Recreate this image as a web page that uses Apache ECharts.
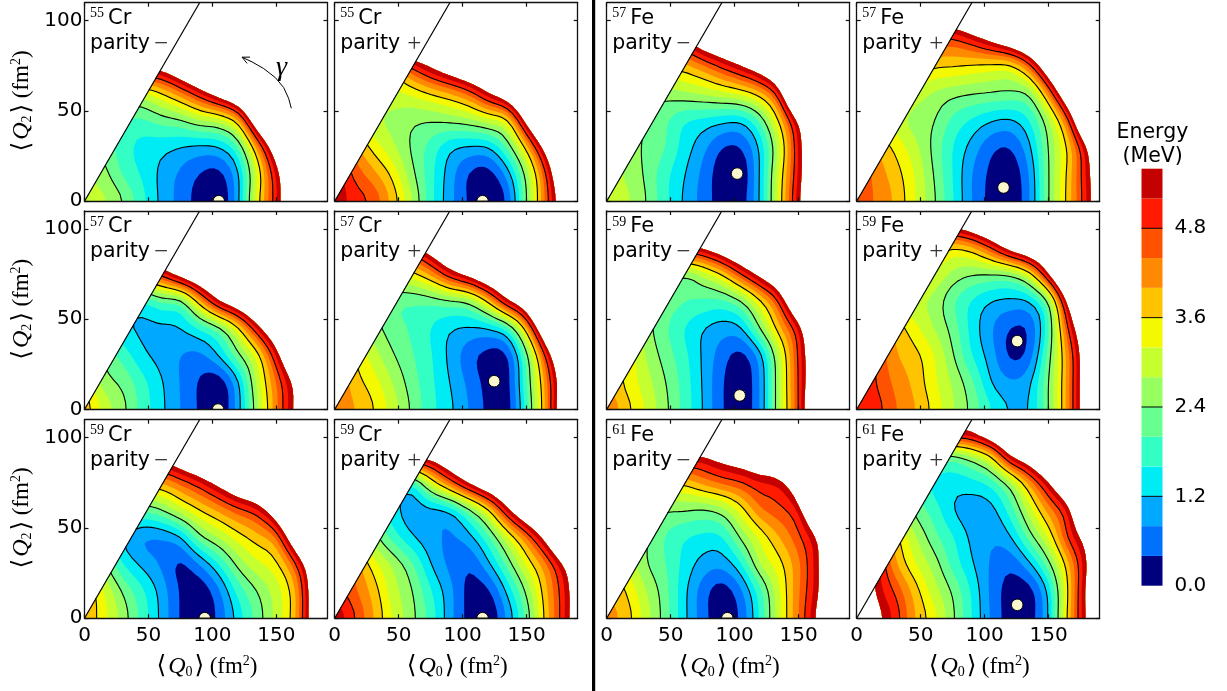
<!DOCTYPE html>
<html><head><meta charset="utf-8">
<style>html,body{margin:0;padding:0;background:#fff}#c{width:1227px;height:691px}</style>
<script src="https://cdn.jsdelivr.net/npm/echarts@6/dist/echarts.min.js"></script>
</head><body><div id="c"></div>
<script>
// Energy read on a grid: rows Q2 = 0,15,...,105; columns Q0 = 0,15,...,195
const gridStep = 15;
const cr55Minus = [
[3.1,2.9,2.45,1.75,1.1,.65,.2,0,1.05,3.45,5.1,7.5,9.5,11],
[2.8,2.55,1.95,1.55,1.1,.72,.38,.25,1.1,3.2,5.3,7.3,9.5,11],
[3.0,2.3,1.8,1.45,1.35,1.2,1.1,1.2,1.95,4.15,6.5,9,11,12],
[3.2,2.4,2.0,1.95,2.2,2.38,2.8,3.0,3.9,6.7,9,11,12,12],
[5,4,3.2,3.1,3.6,4.3,5.2,6.2,7.3,9.2,11,12,12,12],
[7,6.5,6.2,6.1,6.1,7,8,9,10.5,12,12,12,12,12],
[9,9,9,9,9,9.5,10,11,12,12,12,12,12,12],
[11,11,11,11,11,11,12,12,12,12,12,12,12,12]];
const cr55Plus = [
[5.5,5.05,4.75,3.9,2.9,1.75,.95,.35,0,.42,2.4,4.5,6.5,8.5],
[5.5,4.7,4.15,3.5,2.55,1.75,1.0,.35,.2,.95,2.6,4.75,7.3,9],
[5,4.2,3.45,2.9,2.35,1.85,1.3,1.15,1.2,2.1,3.8,6.1,8.5,10],
[4.5,3.5,2.9,2.7,2.5,2.45,2.55,2.7,3.05,3.5,6.05,8.6,11,12],
[4.5,3.5,3.2,3.1,3.3,3.65,4.0,4.55,5.6,6.6,8.5,11,12,12],
[5,4.5,4,4,4.95,5.75,6.5,7.3,8,9,10.5,12,12,12],
[8,8,8,8,8,7.6,8.3,9,10,11,12,12,12,12],
[10,10,10,10,10,10,11,12,12,12,12,12,12,12]];
const fe57Minus = [
[3.05,2.9,2.45,1.75,1.15,.65,.2,.2,1.25,3.35,5.5,7.2,9,10],
[3,2.75,2.35,1.75,1.25,.7,.15,.05,1.25,3.25,5.3,7.2,9,10],
[3,2.6,2.35,2.05,1.45,.95,.4,.4,1.3,3.0,5.3,7.2,9,10],
[3.2,2.8,2.4,2.1,1.65,1.5,1.35,1.3,2.1,3.7,5.8,8,10,12],
[3.5,3,2.6,2.6,2.75,2.9,3.1,3.35,3.9,5.2,8.9,11,12,12],
[4.5,4,3.8,3.8,3.85,4.3,4.95,5.6,6.4,7.8,11.4,13,13,13],
[6,5.5,5.5,5.5,5.5,6.6,7.3,8,8.9,10,12,13,13,13],
[8,8,8,8,8,8.5,9.5,10.5,11.5,12,13,13,13,13]];
const fe57Plus = [
[4.7,4.35,3.95,3.25,2.5,1.65,.8,.25,.05,.75,2.4,3.75,5.2,7],
[4.8,4.25,3.8,3.2,2.4,1.6,.8,.3,.1,.8,2.4,3.7,5.3,7],
[4.5,4,3.5,2.95,2.3,1.6,1.05,.5,.4,1.1,2.45,3.65,5.6,8],
[4.2,3.5,3.0,2.65,2.45,1.9,1.55,1.25,1.15,1.6,2.75,4.6,8,10],
[4.5,4,3.5,3.1,2.75,2.55,2.45,2.4,2.35,2.5,4.3,7,10,12],
[4.5,4.2,4,4,3.7,3.65,3.55,3.45,3.45,4.55,6.8,9.4,12,12],
[5,5,4.8,4.8,4.8,4.75,5.2,5.9,6.7,7.7,9.2,12,12,12],
[6.5,6.5,6.5,6.5,6.5,6.8,7.6,8.3,9.1,10,11,12,12,12]];
const cr57Minus = [
[3.9,3.1,2.55,1.85,1.3,.8,.35,0,1.0,2.7,4.3,5.8,7.5,9],
[3.5,2.6,2.3,1.75,1.25,.78,.35,.1,1.1,2.95,4.4,5.9,7.5,9],
[3,2.3,1.85,1.3,1.05,.8,.7,1.25,2.3,3.35,5.25,7.5,9.5,11],
[3,2,1.3,1.15,1.1,1.2,1.65,2.2,3.45,5.25,7,9,11,12],
[3,2.5,1.8,1.55,2.05,2.15,3.9,5.6,6.6,7.85,9.5,11,12,12],
[4.5,4.5,4.5,4.5,5,6.1,7,8,8.9,10.3,12,12,12,12],
[8,8,8,8,8,8.5,9.5,11,11,12,12,12,12,12],
[11,11,11,11,11,11,12,12,12,12,12,12,12,12]];
const cr57Plus = [
[4.3,4.05,3.65,3.05,2.35,1.75,1.3,.8,.3,.15,1.8,4.1,6.8,9],
[4.5,3.8,3.4,2.8,2.2,1.7,1.2,.7,.25,.2,2.0,4.2,6.6,9],
[4,3.6,3.0,2.45,2.05,1.65,1.1,.55,.25,.35,2.2,4.9,7.5,10],
[3.8,3.2,2.6,2.2,1.95,1.6,1.25,1.15,1.2,1.75,3.9,7.1,10,12],
[3.5,3,2.5,2.1,2.05,2.1,2.3,2.5,3.7,5.5,6.8,9.8,12,12],
[3.8,3.5,3.3,3.3,3.45,4.1,5.2,6,7,7.9,9.2,12,12,12],
[6,6,6,5.5,5.5,6.4,7.6,8.5,9.4,10.3,12,12,12,12],
[10,10,10,10,10,10,11,12,12,12,12,12,12,12]];
const fe59Minus = [
[4.4,3.8,3.2,2.55,1.9,1.2,.45,.1,.8,2.85,4.8,7.5,9.5,11],
[4,3.5,3.0,2.45,1.85,1.17,.45,.1,.8,2.85,4.85,7,9.5,11],
[4,3.6,2.8,2.25,1.75,1.15,.6,.25,1,2.95,4.9,7,9.5,11],
[3.8,3.2,2.6,2.1,1.6,1.22,1.0,1.15,2.45,3.9,5.2,8,10.5,12],
[3.5,3,2.6,2.3,2.05,1.95,1.9,2.35,3.5,4.85,7.5,10,12,12],
[3.5,3.3,3,2.8,2.4,2.9,3.6,4.8,5.95,7.2,10,12,12,12],
[5.5,5.5,5.5,5.5,5.5,5.75,6.6,7.5,8.3,9.6,12,12,12,12],
[8,8,8,8,8,8.5,9.5,10.5,11,12,12,12,12,12]];
const fe59Plus = [
[5.1,5,4.45,4.05,3.5,2.85,2.3,1.65,1.2,1.2,2.4,4.2,6.5,9],
[5.2,4.8,4.3,3.9,3.3,2.75,2.1,1.2,.87,1.1,2.4,4.2,6.5,9],
[5.2,4.8,4.05,3.75,3.25,2.45,1.6,1.0,.3,.55,2.2,4.2,6.5,9],
[5,4.5,3.9,3.35,2.8,2.25,1.45,.85,.38,.45,1.9,4.8,7,9.5],
[4.5,4,3.3,2.9,2.7,2.05,1.55,1.2,1.1,1.2,2.4,5.9,8.5,11],
[4.5,4,3.5,3.3,3.2,2.7,2.45,2.4,2.45,3.3,5.6,8.5,11,12],
[5,4.5,4.2,4,4,3.6,3.9,4.85,6.15,7,8.1,11,12,12],
[6,6,6,6,6,6.3,6.95,7.8,8.6,9.4,10.5,12,12,12]];
const cr59Minus = [
[3.95,3.35,2.65,1.85,1.1,.35,0,.5,1.35,2.15,2.95,3.95,6.5,9],
[4,3.2,2.35,1.7,1.05,.35,.1,.7,1.75,2.4,3,3.95,6.5,9],
[3.3,2.5,1.6,1.1,.75,.3,.8,1.6,2.55,3.1,3.5,4.7,7,9.5],
[3,2,1.2,.8,.8,1.15,2.3,2.85,3.4,3.85,4.4,6.8,9.5,11],
[3.5,3,2.5,2.1,2.4,3.05,3.6,4.1,4.65,5.1,6.5,9.2,12,12],
[4,4,4,4,4,4.5,5.1,5.9,6.8,7.55,8.9,11.6,12,12],
[6,6,6,6,6,6.75,7.55,8.35,9.15,10,11.5,12,12,12],
[8,8,8,8,8,9,10,11,12,12,12,12,12,12]];
const cr59Plus = [
[5.6,4.9,4.05,3.2,2.55,1.85,.95,.25,0,.85,2.1,3.75,5.2,6.8],
[5,4.5,3.85,3.0,2.45,1.65,.95,.25,.3,1.3,2.5,3.9,5.2,6.8],
[5,4.3,3.4,2.75,2.1,1.2,.7,.45,1.1,2.15,3.3,4.3,5.75,7.5],
[4.3,3.4,2.6,1.85,1.25,.95,.75,1.05,1.9,3.15,4.4,6,8.4,11],
[4,3,2.2,1.4,1.0,1.05,1.25,2.25,3.5,5.4,7,8.4,10.2,12],
[4,3,2.5,2,1.6,3.2,4.5,5.75,6.8,7.85,9.3,10.9,12,12],
[6,6,6,6,6,6.1,7.1,8.2,9.2,10.3,11.7,12,12,12],
[9,9,9,9,9,9.5,10.5,12,12,12,12,12,12,12]];
const fe61Minus = [
[4.2,3.85,3.05,2.25,1.35,.6,.1,.45,1.7,3.1,4.4,5.8,8,9.5],
[4,3.6,2.85,2.2,1.35,.6,.15,.7,1.85,3.15,4.35,5.5,7.5,9.5],
[3.8,3.2,2.45,2.05,1.5,1.05,.95,1.55,2.85,3.45,4.3,5.5,7.5,9.5],
[3.6,3,2.5,2,1.65,1.5,1.55,2.5,3.3,4,4.7,5.7,8,10],
[3.6,3.2,2.8,2.45,2.45,2.35,2.6,3.4,4.35,4.7,5.25,7.8,10,12],
[3.8,3.8,3.8,3.8,3.7,4.15,4.5,4.75,5.15,5.35,6.8,11,12,12],
[5.6,5.6,5.6,5.6,5.6,5.6,6.1,6.5,7,7.5,9.2,12,12,12],
[8,8,8,8,8,8,8.9,9.5,10,10.5,12,12,12,12]];
const fe61Plus = [
[8,6,5.1,4.05,3.4,2.5,1.6,.75,.2,.2,1.2,3.75,5.7,8],
[7,5.5,4.75,3.85,3.0,2.35,1.55,.7,.2,.2,1.3,3.6,5.8,8],
[7,5.5,4.1,3.25,2.65,1.85,1.25,.75,.5,1.1,2.25,3.85,5.6,7.5],
[7,5,3.8,2.9,2.15,1.65,1.1,.85,1.15,2.2,3.25,4.85,6.1,8],
[6,4.5,3.2,2.3,1.85,1.2,1.0,1.05,1.8,3.0,4.2,5.25,8,10],
[6,4.5,3,2.2,1.5,1.4,1.45,1.75,2.65,4.1,5.55,7.4,10,12],
[6,5,4,3,2.5,2.25,2.75,3.6,5.65,6.6,8,9.8,12,12],
[6,6,6,6,6,6,6.1,7.1,8,8.9,10,12,12,12]];

// Colour bar
const energyLevels = [0,.4,.8,1.2,1.6,2,2.4,2.8,3.2,3.6,4,4.4,4.8,5.2,5.6];
const bandColors = ['#00007f','#0070ff','#00a8ff','#00ecf4','#33ffc4','#66ff90','#97ff60','#c6ff30','#f4f800','#ffc400','#ff8a00','#ff5200','#ff1a00','#c40000'];
const lineLevels = [1.2,2.4,3.6,4.8];
const barTicks = [0,1.2,2.4,3.6,4.8];

// Panels, in reading order
const panelGrids = [cr55Minus,cr55Plus,fe57Minus,fe57Plus,cr57Minus,cr57Plus,fe59Minus,fe59Plus,cr59Minus,cr59Plus,fe61Minus,fe61Plus];
const massNumbers = ['55','55','57','57','57','57','59','59','59','59','61','61'];
const elements = ['Cr','Cr','Fe','Fe','Cr','Cr','Fe','Fe','Cr','Cr','Fe','Fe'];
const parities = ['−','+','−','+','−','+','−','+','−','+','−','+'];
const minimaQ0 = [105,115.6,102,114.8,104.4,124.7,104,125.5,94,115.6,94.3,125.5];
const minimaQ2 = [0,0,15.3,7.6,0,15.7,7.8,37.9,0,0,0,7.4];
const wedgeLine = [[0,0],[90,110]];
const gammaArc = [[161.7,51.5],[159.6,57],[155.7,63],[149.2,68.5],[140.1,73.5],[131,77.2],[123.2,79.8]];
const q0Ticks = [0,50,100,150];
const q2Ticks = [0,50,100];

const lefts = [84.5,334.7,606.7,856.7], tops = [2.7,211,419.7];
const PW = 243, PH = 198.5;
const slope = wedgeLine[1][1]/wedgeLine[1][0];
const FINE = 4, XMAX = 190;

echarts.graphic.registerShape('cellPath', echarts.graphic.extendShape({
  shape:{polys:[]},
  buildPath(ctx, s){
    for (const p of s.polys){
      ctx.moveTo(p[0],p[1]);
      for (let i=2;i<p.length;i+=2) ctx.lineTo(p[i],p[i+1]);
      if (!s.open) ctx.closePath();
    }
  }
}));

function cr(a,b,c,d,t){return .5*(2*b+(c-a)*t+(2*a-5*b+4*c-d)*t*t+(3*b-a-3*c+d)*t*t*t);}
function up1(arr){const n=arr.length,o=[];for(let i=0;i<n-1;i++){const a=arr[Math.max(i-1,0)],b=arr[i],c=arr[i+1],d=arr[Math.min(i+2,n-1)];for(let k=0;k<FINE;k++)o.push(cr(a,b,c,d,k/FINE));}o.push(arr[n-1]);return o;}
function soften(G){ // [1,2,1] pass in both directions, so the contours lose the read-grid ripple
  const h=G.length,w=G[0].length,o=[];
  for(let j=0;j<h;j++){const r=[];for(let i=0;i<w;i++){
    let s=0;for(const [dj,wj] of [[-1,1],[0,2],[1,1]])for(const [di,wi] of [[-1,1],[0,2],[1,1]]){
      const jj=Math.min(h-1,Math.abs(j+dj)),ii=Math.min(w-1,Math.abs(i+di));s+=wj*wi*G[jj][ii];}
    r.push(s/16);}o.push(r);}
  return o;
}
function upsample(g){
  const rows=g.map(up1), cols=rows[0].length;
  const colsOut=[];for(let i=0;i<cols;i++)colsOut.push(up1(rows.map(r=>r[i])));
  const h=colsOut[0].length;let out=[];for(let j=0;j<h;j++){out.push(colsOut.map(c=>c[j]));}
  out=soften(soften(out));
  return out;
}
// clip a polygon of [x,y,v] vertices to f(vertex)>=0
function clipBy(poly,f){
  const out=[];
  for(let i=0;i<poly.length;i++){const a=poly[i],b=poly[(i+1)%poly.length],fa=f(a),fb=f(b);
    if(fa>=0)out.push(a);
    if((fa>=0)!==(fb>=0)){const t=fa/(fa-fb);out.push([a[0]+(b[0]-a[0])*t,a[1]+(b[1]-a[1])*t,a[2]+(b[2]-a[2])*t]);}
  }
  return out;
}
function bandPolys(F,L,U,toX,toY){
  const out=[],d=gridStep/FINE;
  const fW=p=>slope*p[0]-p[1], fX=p=>XMAX-p[0], fL=p=>p[2]-L, fU=p=>U-p[2];
  for(let j=0;j<F.length-1;j++){for(let i=0;i<F[0].length-1;i++){
    const x0=i*d,x1=(i+1)*d,y0=j*d,y1=(j+1)*d;
    if(y0>slope*x1||x0>=XMAX)continue;
    const a=F[j][i],b=F[j][i+1],c=F[j+1][i+1],e=F[j+1][i];
    if(Math.min(a,b,c,e)>=U||Math.max(a,b,c,e)<L)continue;
    let poly=[[x0,y0,a],[x1,y0,b],[x1,y1,c],[x0,y1,e]];
    poly=clipBy(poly,fL); if(poly.length<3)continue;
    poly=clipBy(poly,fU); if(poly.length<3)continue;
    if(y1>slope*x0){poly=clipBy(poly,fW); if(poly.length<3)continue;}
    if(x1>XMAX){poly=clipBy(poly,fX); if(poly.length<3)continue;}
    const flat=[];for(const p of poly)flat.push(toX(p[0]),toY(p[1]));
    out.push(flat);
  }}
  return out;
}
function contourSegs(F,L,toX,toY){
  const out=[],d=gridStep/FINE;
  for(let j=0;j<F.length-1;j++){for(let i=0;i<F[0].length-1;i++){
    const x0=i*d,x1=(i+1)*d,y0=j*d,y1=(j+1)*d;
    if(y0>slope*x1||x1>XMAX)continue;
    const c=[[x0,y0,F[j][i]],[x1,y0,F[j][i+1]],[x1,y1,F[j+1][i+1]],[x0,y1,F[j+1][i]]];
    const pts=[];
    for(let k=0;k<4;k++){const a=c[k],b=c[(k+1)%4];
      if((a[2]>=L)!==(b[2]>=L)){const t=(L-a[2])/(b[2]-a[2]);pts.push([a[0]+(b[0]-a[0])*t,a[1]+(b[1]-a[1])*t]);}
    }
    for(let k=0;k+1<pts.length;k+=2){
      let a=pts[k],b=pts[k+1];
      const fa=slope*a[0]-a[1],fb=slope*b[0]-b[1];
      if(fa<0&&fb<0)continue;
      if(fa<0||fb<0){const t=fa/(fa-fb),m=[a[0]+(b[0]-a[0])*t,a[1]+(b[1]-a[1])*t];if(fa<0)a=m;else b=m;}
      out.push([toX(a[0]),toY(a[1]),toX(b[0]),toY(b[1])]);
    }
  }}
  return out;
}

const fineGrids = panelGrids.map(upsample);
const grids=[],xAxes=[],yAxes=[],series=[],graphics=[];
const serif="'Liberation Serif','DejaVu Serif',serif", sans="'DejaVu Sans',sans-serif";
const nameRich={n:{fontFamily:serif,fontSize:23,color:'#000'},b:{fontFamily:"'DejaVu Serif'",fontSize:25,color:'#000',padding:[0,2,0,2]},
  q:{fontFamily:serif,fontStyle:'italic',fontSize:24,color:'#000'},s:{fontFamily:serif,fontSize:14,color:'#000',verticalAlign:'bottom'},t:{fontFamily:serif,fontSize:14,color:'#000',verticalAlign:'top'}};

panelGrids.forEach((g,idx)=>{
  const col=idx%4,row=Math.floor(idx/4);
  const L=lefts[col],T=tops[row];
  grids.push({left:L,top:T,width:PW,height:PH,containLabel:false});
  const tick=vals=>({show:true,inside:true,length:4,customValues:vals,lineStyle:{color:'#111',width:1.2}});
  const ax=(extra)=>Object.assign({type:'value',z:10,splitLine:{show:false},
    axisLine:{show:true,onZero:false,lineStyle:{color:'#111',width:1.3}}},extra);
  const lab=(on,vals,m)=>({show:on,customValues:vals,margin:m,fontFamily:sans,fontSize:20,color:'#000'});
  const xi=xAxes.length, yi=yAxes.length;
  xAxes.push(ax({gridIndex:idx,min:0,max:XMAX,position:'bottom',axisTick:tick(q0Ticks),axisLabel:lab(row===2,q0Ticks,8),
    name:row===2?'{b|⟨}{q|Q}{s|0}{b|⟩} {n|(fm}{t|2}{n|)}':'',nameLocation:'middle',nameGap:36,nameTextStyle:{rich:nameRich}}));
  xAxes.push(ax({gridIndex:idx,min:0,max:XMAX,position:'top',axisTick:tick(q0Ticks),axisLabel:{show:false}}));
  yAxes.push(ax({gridIndex:idx,min:0,max:110,position:'left',axisTick:tick(q2Ticks),axisLabel:lab(col===0,q2Ticks,2),
    name:col===0?'{b|⟨}{q|Q}{s|2}{b|⟩} {n|(fm}{t|2}{n|)}':'',nameLocation:'middle',nameGap:50,nameTextStyle:{rich:nameRich}}));
  yAxes.push(ax({gridIndex:idx,min:0,max:110,position:'right',axisTick:tick(q2Ticks),axisLabel:{show:false}}));
  const F=fineGrids[idx];
  series.push({type:'custom',xAxisIndex:xi,yAxisIndex:yi,silent:true,z:2,data:[[0,0]],
    renderItem(params,api){
      const o=api.coord([0,0]),e=api.coord([100,100]);
      const sx=(e[0]-o[0])/100,sy=(e[1]-o[1])/100;
      const toX=x=>o[0]+x*sx,toY=y=>o[1]+y*sy;
      const top=energyLevels[energyLevels.length-1];
      const kids=[];
      bandColors.forEach((c,k)=>{
        kids.push({type:'cellPath',silent:true,shape:{polys:bandPolys(F,k===0?-1e9:energyLevels[k],top,toX,toY)},style:{fill:c,stroke:null}});
      });
      lineLevels.forEach(l=>{
        kids.push({type:'cellPath',silent:true,shape:{open:true,polys:contourSegs(F,l,toX,toY)},style:{fill:null,stroke:'#000',lineWidth:1.1,lineCap:'round'}});
      });
      return {type:'group',children:kids};
    }});
  series.push({type:'line',xAxisIndex:xi,yAxisIndex:yi,silent:true,z:3,data:wedgeLine,showSymbol:false,symbol:'none',lineStyle:{color:'#000',width:1.2}});
  series.push({type:'custom',xAxisIndex:xi,yAxisIndex:yi,silent:true,z:4,data:[[minimaQ0[idx],minimaQ2[idx]]],
    renderItem(p,api){
      const c=api.coord([api.value(0),api.value(1)]);
      const style={fill:'#fbf8cf',stroke:'#000',lineWidth:1};
      if(api.value(1)===0) return {type:'sector',silent:true,shape:{cx:c[0],cy:c[1],r0:0,r:5.8,startAngle:Math.PI,endAngle:2*Math.PI},style};
      return {type:'circle',silent:true,shape:{cx:c[0],cy:c[1],r:5.8},style};
    }});
  // panel labels
  graphics.push({type:'text',silent:true,z:20,left:L+5.5,top:T+4,style:{text:massNumbers[idx],font:"14px "+serif,fill:'#000'}});
  graphics.push({type:'text',silent:true,z:20,left:L+23.5,top:T+5.5,style:{text:elements[idx],font:"21px "+sans,fill:'#000'}});
  graphics.push({type:'text',silent:true,z:20,left:L+5.5,top:T+30,style:{text:'parity',font:"20.5px "+sans,fill:'#000'}});
  graphics.push({type:'text',silent:true,z:20,left:L+(parities[idx]==='+'?72.5:69.5),top:T+29,style:{text:parities[idx],font:"25px "+serif,fill:'#333'}});
});

// gamma arrow in the first panel
series.push({type:'custom',xAxisIndex:0,yAxisIndex:0,silent:true,z:6,data:[[0,0]],
  renderItem(p,api){
    const pts=gammaArc.map(q=>api.coord(q));
    const tip=pts[pts.length-1],prev=pts[pts.length-2];
    const a=Math.atan2(tip[1]-prev[1],tip[0]-prev[0]);
    const barb=(d)=>[tip[0]-8*Math.cos(a+d),tip[1]-8*Math.sin(a+d)];
    return {type:'group',children:[
      {type:'polyline',silent:true,shape:{points:pts},style:{fill:null,stroke:'#000',lineWidth:1,lineJoin:'round'}},
      {type:'polyline',silent:true,shape:{points:[barb(.45),tip,barb(-.45)]},style:{fill:null,stroke:'#000',lineWidth:1}}
    ]};
  }});
graphics.push({type:'text',silent:true,z:20,left:276,top:54,style:{text:'γ',font:"italic 28px "+serif,fill:'#000'}});

// colour bar
const bg=grids.length;
grids.push({left:1141.5,top:168.7,width:21,height:417});
xAxes.push({type:'value',gridIndex:bg,min:0,max:1,show:false});
yAxes.push({type:'value',gridIndex:bg,min:0,max:5.6,position:'right',splitLine:{show:false},axisLine:{show:false},axisTick:{show:false},
  axisLabel:{customValues:barTicks,margin:12,fontFamily:sans,fontSize:20,color:'#000',formatter:v=>v.toFixed(1)}});
series.push({type:'custom',xAxisIndex:xAxes.length-1,yAxisIndex:yAxes.length-1,silent:true,data:bandColors.map((c,i)=>[0,energyLevels[i],energyLevels[i+1]]),
  renderItem(p,api){
    const a=api.coord([0,api.value(1)]),b=api.coord([1,api.value(2)]);
    return {type:'rect',silent:true,shape:{x:a[0],y:b[1],width:b[0]-a[0],height:a[1]-b[1]},style:{fill:bandColors[p.dataIndex]}};
  }});
series.push({type:'custom',xAxisIndex:xAxes.length-1,yAxisIndex:yAxes.length-1,silent:true,z:3,data:lineLevels.map(l=>[0,l]),
  renderItem(p,api){
    const a=api.coord([0,api.value(1)]),b=api.coord([1,api.value(1)]);
    return {type:'line',silent:true,shape:{x1:a[0],y1:a[1],x2:b[0],y2:b[1]},style:{stroke:'#000',lineWidth:1}};
  }});
graphics.push({type:'text',silent:true,z:20,left:1116.5,top:122,style:{text:'Energy',font:"20.5px "+sans,fill:'#000'}});
graphics.push({type:'text',silent:true,z:20,left:1122.5,top:146,style:{text:'(MeV)',font:"20.5px "+sans,fill:'#000'}});
// divider between Cr and Fe
graphics.push({type:'rect',silent:true,z:20,left:592,top:0,shape:{width:3.2,height:691},style:{fill:'#000'}});

const chart=echarts.init(document.getElementById('c'),null,{renderer:'canvas',width:1227,height:691});
chart.setOption({animation:false,backgroundColor:'#fff',grid:grids,xAxis:xAxes,yAxis:yAxes,series,graphic:{elements:graphics}});
</script></body></html>
